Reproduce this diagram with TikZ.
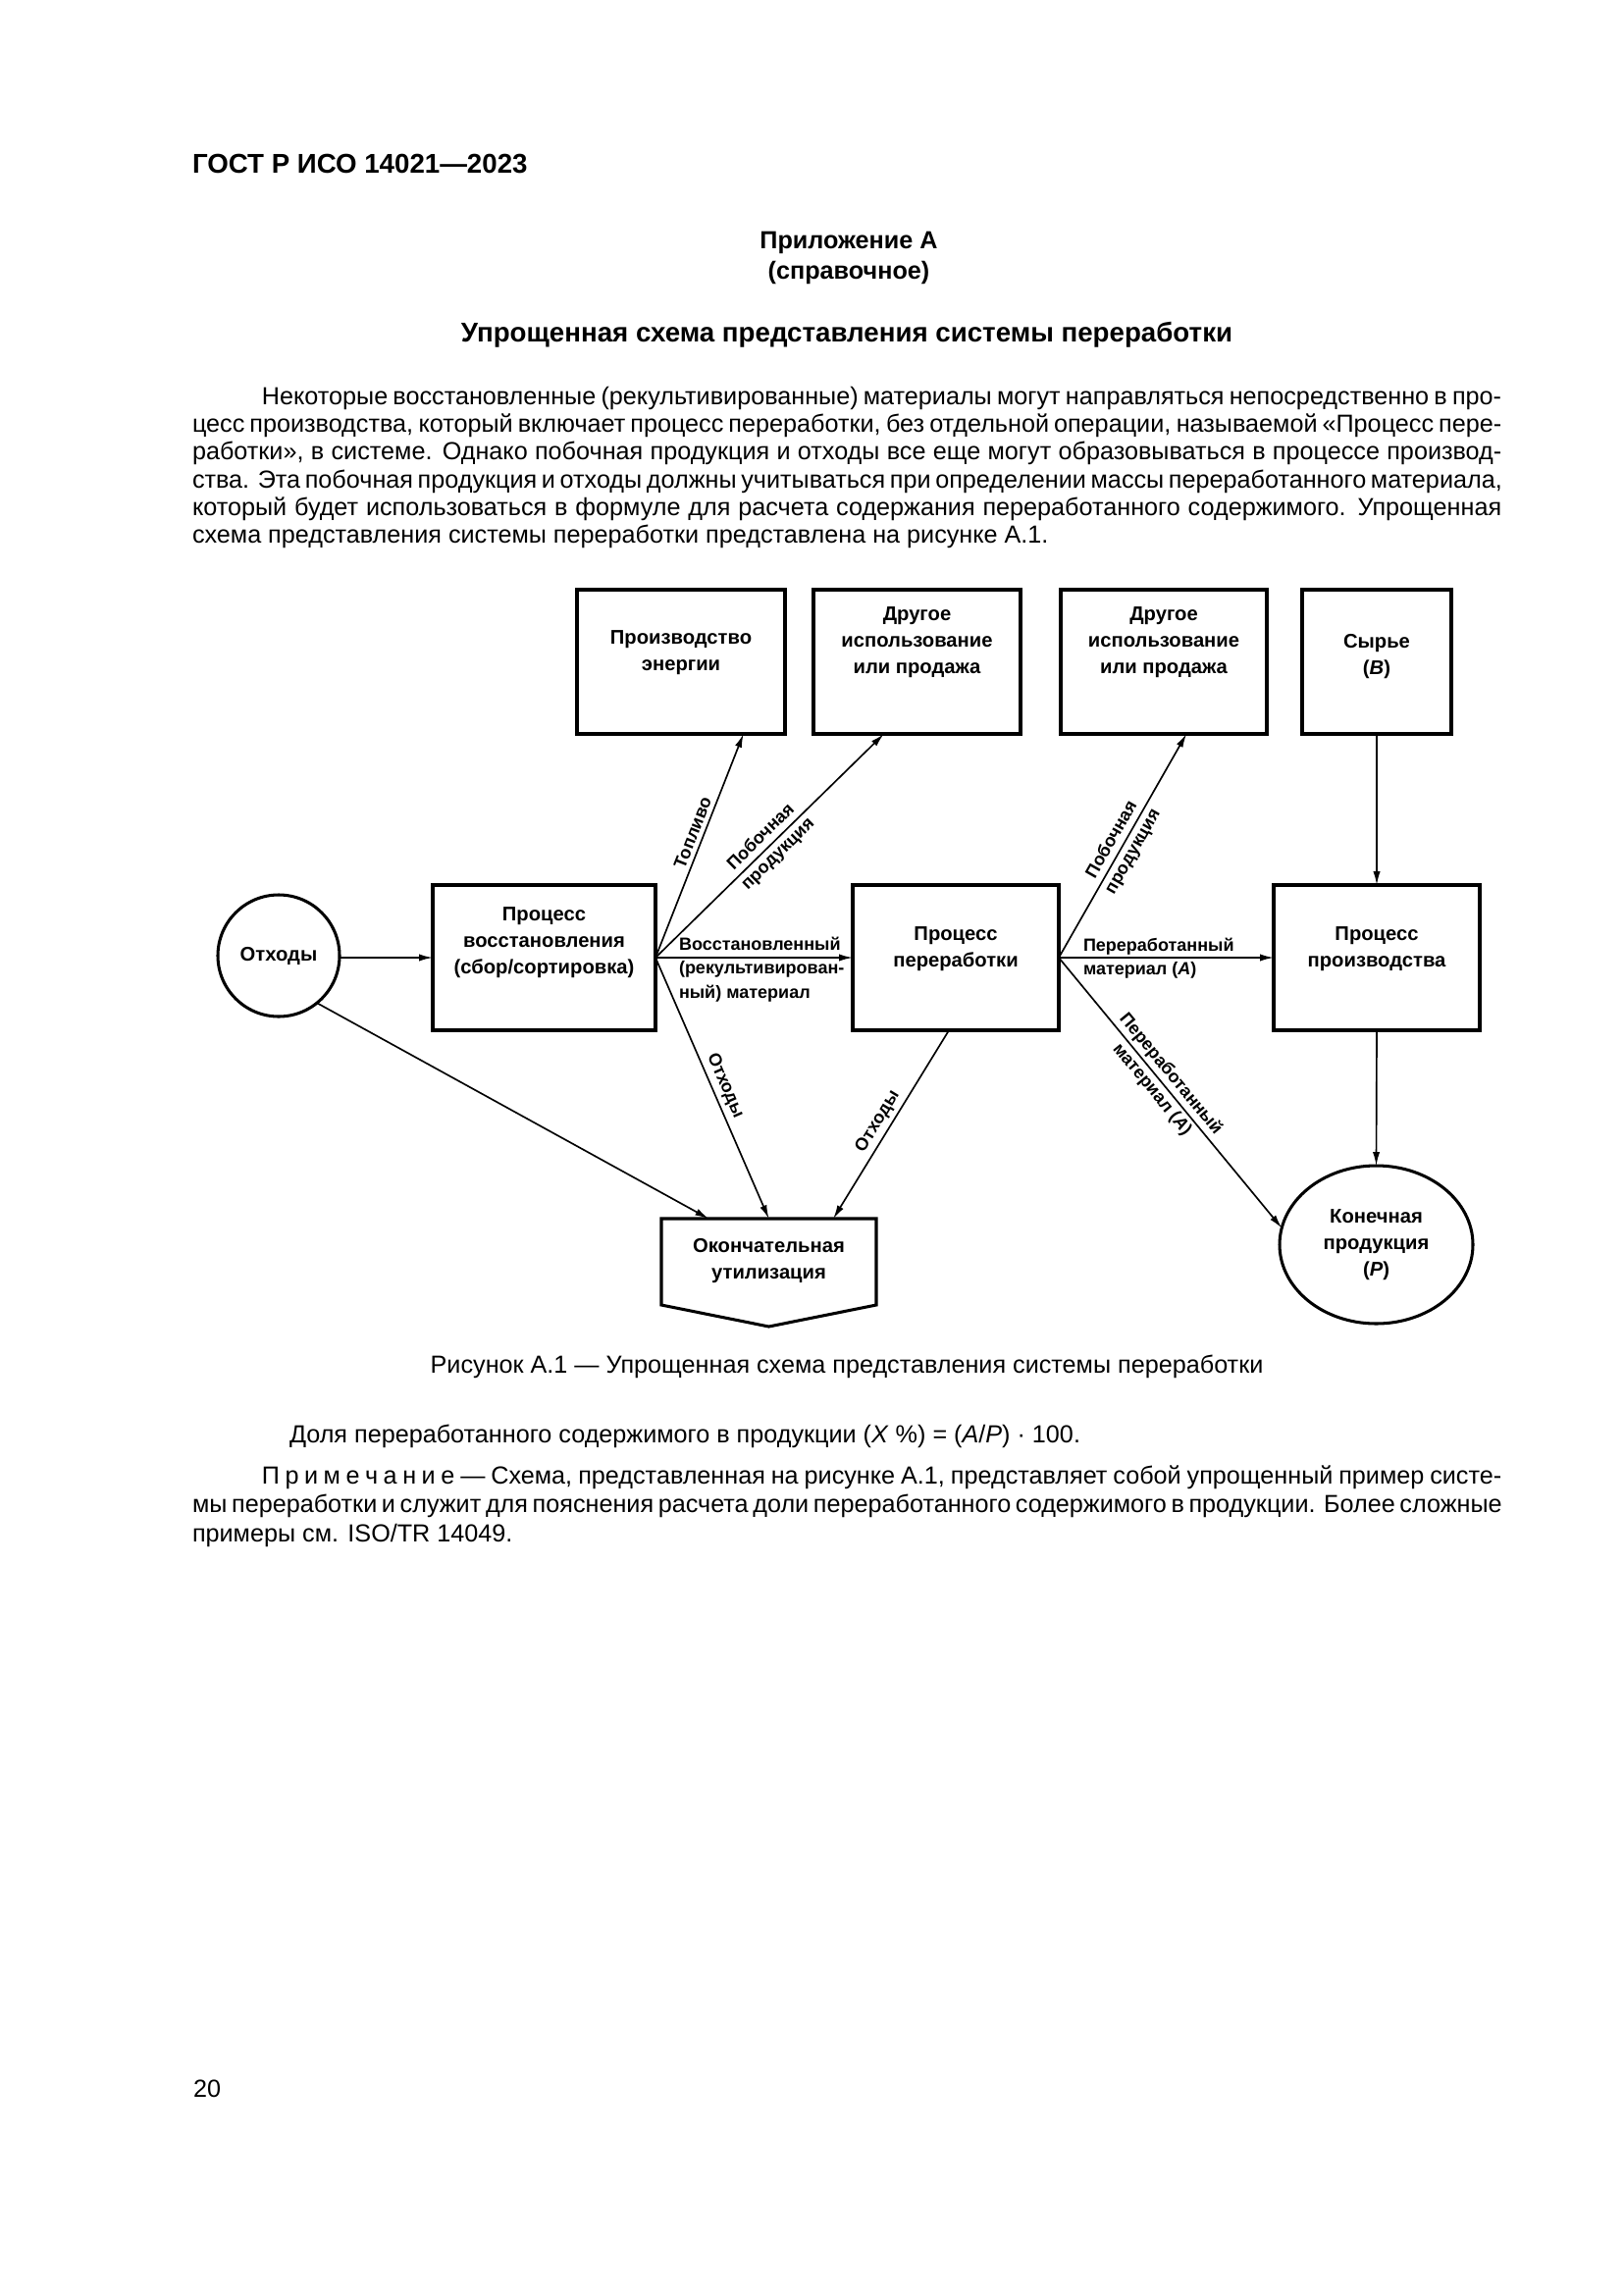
\documentclass[tikz,border=0pt]{standalone}
\usepackage{fontspec}
\setmainfont{Liberation Sans}
\usetikzlibrary{arrows.meta,calc,shapes.geometric}

\newcommand{\pxu}{*0.126965mm}
\newlength{\tw}\setlength{\tw}{169.4mm}
\newlength{\ind}\setlength{\ind}{9.0mm}
\newcommand{\jl}[1]{\hbox to\tw{#1}}
\newcommand{\bodyfont}{\fontsize{9.1pt}{10.24pt}\selectfont}
\newcommand{\notefont}{\fontsize{9.1pt}{10.8pt}\selectfont}
\newcommand{\headfont}{\bfseries\fontsize{10pt}{12pt}\selectfont}
\newcommand{\appfont}{\bfseries\fontsize{9.1pt}{11pt}\selectfont}
\newcommand{\boxfont}{\bfseries\fontsize{7.3pt}{9.75pt}\selectfont}
\newcommand{\labfont}{\bfseries\fontsize{6.5pt}{8.9pt}\selectfont}

\tikzset{
  box/.style={draw, line width=1.1pt, inner sep=0pt, outer sep=0pt},
  boxtxt/.style={font=\boxfont, align=center, inner sep=0pt},
  arr/.style={line width=0.6pt, -{Latex[length=5pt,width=2.6pt]}},
  elab/.style={font=\labfont, align=center, inner sep=1.5pt},
  plain/.style={inner sep=0pt, outer sep=0pt},
}

\begin{document}
\begin{tikzpicture}[x=0.126965mm, y=-0.126965mm]
\useasboundingbox (0,0) rectangle (1654,2339);
\fill[white] (0,0) rectangle (1654,2339);

% ---------- header and text ----------
\node[plain, anchor=base west, font=\headfont] (hdr) at (196,177) {ГОСТ Р ИСО 14021—2023};
\node[plain, anchor=base, font=\appfont] (app) at (865,254) {Приложение А};
\node[plain, anchor=base, font=\appfont] (spr) at (865,284) {(справочное)};
\node[plain, anchor=base, font=\headfont] (ttl) at (863,348) {Упрощенная схема представления системы переработки};

\node[plain, anchor=base west, font=\bodyfont] (par) at (196,412) {\vtop{%
\jl{\hskip\ind Некоторые восстановленные (рекультивированные) материалы могут направляться непосредственно в про-}
\jl{цесс производства, который включает процесс переработки, без отдельной операции, называемой «Процесс пере-}
\jl{работки», в системе. Однако побочная продукция и отходы все еще могут образовываться в процессе производ-}
\jl{ства. Эта побочная продукция и отходы должны учитываться при определении массы переработанного материала,}
\jl{который будет использоваться в формуле для расчета содержания переработанного содержимого. Упрощенная}
\hbox{схема представления системы переработки представлена на рисунке А.1.}}};

% ---------- diagram nodes ----------
\node[box, minimum width=212\pxu, minimum height=147\pxu,
  label={[boxtxt, yshift=9\pxu]center:{Производство\\энергии}}] (pe) at (694,674.5) {};
\node[box, minimum width=211\pxu, minimum height=147\pxu,
  label={[boxtxt, yshift=19.5\pxu]center:{Другое\\использование\\или продажа}}] (ou1) at (934.5,674.5) {};
\node[box, minimum width=210\pxu, minimum height=147\pxu,
  label={[boxtxt, yshift=19.5\pxu]center:{Другое\\использование\\или продажа}}] (ou2) at (1186,674.5) {};
\node[box, minimum width=152\pxu, minimum height=147\pxu,
  label={[boxtxt, yshift=5.5\pxu]center:{Сырье\\(\textit{B})}}] (sy) at (1403,674.5) {};

\node[box, circle, minimum size=124\pxu, font=\boxfont] (ot) at (284,974) {Отходы};
\node[box, minimum width=227\pxu, minimum height=148\pxu,
  label={[boxtxt, yshift=15\pxu]center:{Процесс\\восстановления\\(сбор/сортировка)}}] (rv) at (554.5,976) {};
\node[box, minimum width=210\pxu, minimum height=148\pxu,
  label={[boxtxt, yshift=8.5\pxu]center:{Процесс\\переработки}}] (pp) at (974,976) {};
\node[box, minimum width=210\pxu, minimum height=148\pxu,
  label={[boxtxt, yshift=8.5\pxu]center:{Процесс\\производства}}] (pr) at (1403,976) {};

\node[plain, minimum width=219\pxu, minimum height=110\pxu,
  label={[boxtxt, yshift=12\pxu]center:{Окончательная\\утилизация}}] (fu) at (783.5,1297) {};
\draw[line width=1.1pt, line join=miter]
  (fu.north west) -- (fu.north east) -- ($(fu.north east)+(0,88)$) -- (fu.south)
  -- ($(fu.north west)+(0,88)$) -- cycle;

\node[box, ellipse, minimum width=197\pxu, minimum height=161\pxu, font=\boxfont, align=center]
  (kp) at (1402.5,1268.5) {Конечная\\продукция\\(\textit{P})};

% ---------- connectors ----------
\draw[arr] (sy.south) -- (pr.north);
\draw[arr] (pr.south) -- (kp.north);
\draw[arr] (ot.east |- rv.west) -- (rv.west);
\draw[arr] (rv.east) -- (pp.west);
\draw[arr] (pp.east) -- (pr.west);
\draw[arr] (rv.east) -- node[elab, sloped, above, pos=0.54] (ltop) {Топливо}
  ($(pe.south west)!0.80!(pe.south east)$);
\draw[arr] (rv.east) -- node[elab, sloped, pos=0.5] (lpob1) {Побочная\\продукция}
  ($(ou1.south west)!0.34!(ou1.south east)$);
\draw[arr] (pp.east) -- node[elab, sloped, pos=0.5] (lpob2) {Побочная\\продукция}
  ($(ou2.south west)!0.61!(ou2.south east)$);
\draw[arr] (rv.east) -- node[elab, sloped, above, pos=0.51] (lotx1) {Отходы} (fu.north);
\draw[arr] ($(pp.south west)!0.467!(pp.south east)$) -- node[elab, sloped, above, pos=0.52] (lotx2) {Отходы}
  ($(fu.north west)!0.80!(fu.north east)$);
\draw[arr] (ot.-51) -- ($(fu.north west)!0.22!(fu.north east)$);
\draw[arr] (pp.east) -- node[elab, sloped, pos=0.46] (lpm2) {Переработанный\\материал (\textit{A})} (kp.170);

\node[plain, anchor=base west, font=\labfont] (lrv) at (692,968)
  {\vtop{\hbox{Восстановленный}\hbox{(рекультивирован-}\hbox{ный) материал}}};
\node[plain, anchor=base west, font=\labfont] (lpm) at (1104,969)
  {\vtop{\hbox{Переработанный}\hbox{материал (\textit{A})}}};

% ---------- caption and notes ----------
\node[plain, anchor=base, font=\bodyfont] (cap) at (863,1399)
  {Рисунок А.1 — Упрощенная схема представления системы переработки};
\node[plain, anchor=base west, font=\bodyfont] (frm) at (295,1470)
  {Доля переработанного содержимого в продукции (\textit{X} \%) = (\textit{A}/\textit{P}) · 100.};
\node[plain, anchor=base west, font=\notefont] (note) at (196,1512) {\vtop{%
\jl{\hskip\ind П\kern2pt р\kern2pt и\kern2pt м\kern2pt е\kern2pt ч\kern2pt а\kern2pt н\kern2pt и\kern2pt е — Схема, представленная на рисунке А.1, представляет собой упрощенный пример систе-}
\jl{мы переработки и служит для пояснения расчета доли переработанного содержимого в продукции. Более сложные}
\hbox{примеры см. ISO/TR 14049.}}};

\node[plain, anchor=base west, font=\bodyfont] (pg) at (197,2137) {20};
\end{tikzpicture}
\end{document}
